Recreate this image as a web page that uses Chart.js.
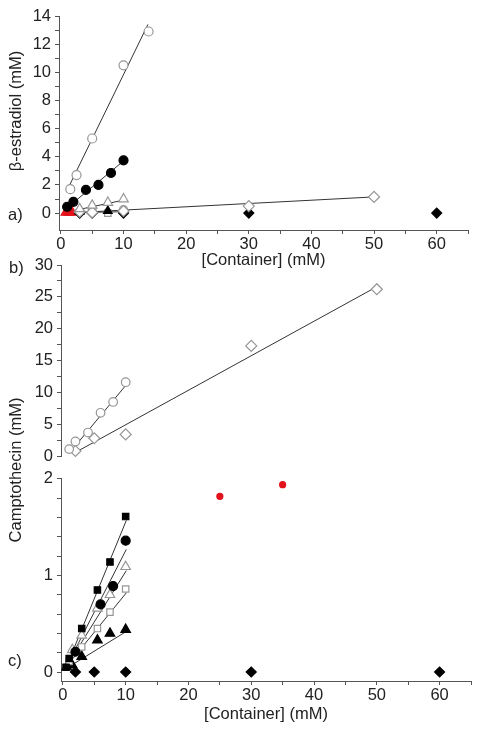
<!DOCTYPE html>
<html>
<head>
<meta charset="utf-8">
<script src="https://cdn.jsdelivr.net/npm/chart.js@4/dist/chart.umd.min.js"></script>
<style>
  body { margin: 0; background: #fff; width: 485px; height: 735px; position: relative; overflow: hidden;
         font-family: "Liberation Sans", Arial, sans-serif; color: #222; }
  canvas { position: absolute; left: 0; }
  .lab { position: absolute; font-size: 16.5px; line-height: 16px; }
  .ytitle { position: absolute; left: 15px; font-size: 16.5px; white-space: nowrap;
            transform: translate(-50%, -50%) rotate(-90deg); }
</style>
</head>
<body>
<canvas id="ca" width="485" height="274" style="top:0"></canvas>
<canvas id="cb" width="485" height="225" style="top:245px"></canvas>
<canvas id="cc" width="485" height="263" style="top:465px"></canvas>
<div class="lab" style="left:8px;top:206px">a)</div>
<div class="lab" style="left:9px;top:259px">b)</div>
<div class="lab" style="left:8px;top:652px">c)</div>
<div class="ytitle" style="top:111px">&beta;-estradiol (mM)</div>
<div class="ytitle" style="top:470px">Camptothecin (mM)</div>
<script>
var FONT = "'Liberation Sans', Arial, sans-serif";
var GRAY = "#969696";
var RED = "#e3121b";

// shared x axis ticks
var xTicks = [0, 5, 10, 15, 20, 25, 30, 35, 40, 45, 50, 55, 60, 65];
var xLabels = [0, 10, 20, 30, 40, 50, 60];

// a) beta-estradiol
var aTicks = [0, 1, 2, 3, 4, 5, 6, 7, 8, 9, 10, 11, 12, 13, 14];
var aLabels = [0, 2, 4, 6, 8, 10, 12, 14];
var aOpenCircleX = [1.5, 2.5, 5, 10, 14];
var aOpenCircleY = [1.7, 2.7, 5.3, 10.5, 12.9];
var aFilledCircleX = [1, 2, 4, 6, 8, 10];
var aFilledCircleY = [0.45, 0.8, 1.65, 2.0, 2.85, 3.75];
var aOpenTriangleX = [3, 5, 7.5, 10];
var aOpenTriangleY = [0.3, 0.55, 0.75, 1.0];
var aOpenDiamondX = [3, 5, 10, 30, 50];
var aOpenDiamondY = [0.1, 0.05, 0.15, 0.5, 1.15];
var aSmallCircleX = [5, 10];
var aSmallCircleY = [0.2, 0.25];
var aFilledDiamondX = [3, 5, 10, 30, 60];
var aFilledDiamondY = [0, 0, 0, 0, 0];
var aFilledTriangleX = [3, 7.5];
var aFilledTriangleY = [0.1, 0.15];
var aOpenSquareX = [7.5];
var aOpenSquareY = [0];
var aRedX = [0.8, 1.3, 1.8];
var aRedY = [0.05, 0.05, 0.05];
var aFits = [
  [[1.3, 1.9], [13.9, 13.4]],
  [[1.2, 0.45], [10, 3.7]],
  [[1.2, 0.1], [10, 0.92]],
  [[0.9, 0], [50, 1.15]],
  [[1, 0.03], [10, 0.1]]
];

// b) camptothecin, upper range
var bTicks = [0, 2.5, 5, 7.5, 10, 12.5, 15, 17.5, 20, 22.5, 25, 27.5, 30];
var bLabels = [0, 5, 10, 15, 20, 25, 30];
var bCircleX = [1, 2, 4, 6, 8, 10];
var bCircleY = [1.1, 2.3, 3.7, 6.8, 8.5, 11.6];
var bDiamondX = [2, 5, 10, 30, 50];
var bDiamondY = [0.8, 2.8, 3.4, 17.3, 26.2];
var bFits = [
  [[1.3, 0.8], [10.1, 11.2]],
  [[2.4, 0.8], [50.2, 26.7]]
];

// c) camptothecin, lower range
var cTicks = [0, 0.2, 0.4, 0.6, 0.8, 1, 1.2, 1.4, 1.6, 1.8, 2];
var cLabels = [0, 1, 2];
var cFilledSquareX = [0.5, 1, 3, 5.5, 7.5, 10];
var cFilledSquareY = [0.05, 0.14, 0.45, 0.85, 1.14, 1.61];
var cFilledCircleX = [2, 6, 8, 10];
var cFilledCircleY = [0.21, 0.7, 0.89, 1.36];
var cOpenTriangleX = [1.5, 3, 5.5, 7.5, 10];
var cOpenTriangleY = [0.23, 0.38, 0.66, 0.8, 1.09];
var cOpenSquareX = [1, 3, 5.5, 7.5, 10];
var cOpenSquareY = [0.11, 0.26, 0.45, 0.62, 0.86];
var cFilledTriangleX = [0.6, 1.5, 3, 5.5, 7.5, 10];
var cFilledTriangleY = [0.05, 0.07, 0.16, 0.33, 0.4, 0.44];
var cFilledDiamondX = [2, 5, 10, 30, 60];
var cFilledDiamondY = [0, 0, 0, 0, 0];
var cRedX = [25, 35];
var cRedY = [1.82, 1.94];
var cFits = [
  [[0.6, 0.06], [10.1, 1.57]],
  [[0.6, 0.06], [10.1, 1.27]],
  [[0.6, 0.06], [10.1, 1.05]],
  [[0.6, 0.06], [10.1, 0.82]],
  [[0.6, 0.04], [10.1, 0.42]]
];

function pts(xs, ys) {
  return xs.map(function (x, i) { return { x: x, y: ys[i] }; });
}

function marks(xs, ys, style, filled, color, r) {
  return {
    data: pts(xs, ys),
    pointStyle: style,
    pointRadius: r,
    backgroundColor: filled ? color : "#fff",
    borderColor: color,
    borderWidth: 1.2,
    showLine: false,
    order: 0
  };
}

function fits(list) {
  return list.map(function (seg) {
    return {
      data: seg.map(function (p) { return { x: p[0], y: p[1] }; }),
      showLine: true,
      pointRadius: 0,
      borderColor: "#333",
      borderWidth: 1,
      order: 1
    };
  });
}

function axis(min, max, ticks, labels, size, horizontal, title, show) {
  return {
    type: "linear",
    display: show !== false,
    min: min,
    max: max,
    afterBuildTicks: function (s) {
      s.ticks = ticks.map(function (v) { return { value: v }; });
    },
    afterFit: function (s) {
      if (horizontal) s.height = size; else s.width = size;
    },
    title: {
      display: !!title,
      text: title,
      color: "#222",
      padding: { top: 4, bottom: 4 },
      font: { family: FONT, size: 16.5 }
    },
    ticks: {
      autoSkip: false,
      maxRotation: 0,
      padding: horizontal ? 1 : 4,
      color: "#222",
      font: { family: FONT, size: 16.5 },
      callback: function (v) { return labels.indexOf(v) >= 0 ? String(v) : ""; }
    },
    grid: { drawOnChartArea: false, tickLength: 4, color: "#555" },
    border: { color: "#555" }
  };
}

function makeChart(id, datasets, xScale, yScale, pad) {
  return new Chart(document.getElementById(id), {
    type: "scatter",
    data: { datasets: datasets },
    options: {
      responsive: false,
      animation: false,
      events: [],
      clip: false,
      layout: { padding: pad },
      plugins: { legend: { display: false }, tooltip: { enabled: false } },
      scales: { x: xScale, y: yScale }
    }
  });
}

makeChart("ca", [
  marks(aOpenCircleX, aOpenCircleY, "circle", false, GRAY, 4.5),
  marks(aFilledCircleX, aFilledCircleY, "circle", true, "#000", 4.5),
  marks(aOpenTriangleX, aOpenTriangleY, "triangle", false, GRAY, 5.5),
  marks(aOpenDiamondX, aOpenDiamondY, "rectRot", false, GRAY, 5.5),
  marks(aSmallCircleX, aSmallCircleY, "circle", false, GRAY, 4),
  marks(aFilledDiamondX, aFilledDiamondY, "rectRot", true, "#000", 5),
  marks(aFilledTriangleX, aFilledTriangleY, "triangle", true, "#000", 5),
  marks(aOpenSquareX, aOpenSquareY, "rect", false, GRAY, 4.5),
  marks(aRedX, aRedY, "triangle", true, RED, 5.5)
].concat(fits(aFits)),
  axis(-0.3, 65, xTicks, xLabels, 44, true, "[Container] (mM)"),
  axis(-1.2, 14, aTicks, aLabels, 59, false, ""),
  { top: 16, right: 17, bottom: 0, left: 0 });

makeChart("cb", [
  marks(bCircleX, bCircleY, "circle", false, GRAY, 4.3),
  marks(bDiamondX, bDiamondY, "rectRot", false, GRAY, 5.5)
].concat(fits(bFits)),
  axis(-0.3, 65, xTicks, xLabels, 0, true, "", false),
  axis(0, 30, bTicks, bLabels, 61, false, ""),
  { top: 20, right: 14, bottom: 8, left: 0 });

makeChart("cc", [
  marks(cFilledSquareX, cFilledSquareY, "rect", true, "#000", 4.5),
  marks(cFilledCircleX, cFilledCircleY, "circle", true, "#000", 4.5),
  marks(cOpenTriangleX, cOpenTriangleY, "triangle", false, GRAY, 5.5),
  marks(cOpenSquareX, cOpenSquareY, "rect", false, GRAY, 4.5),
  marks(cFilledTriangleX, cFilledTriangleY, "triangle", true, "#000", 5.5),
  marks(cFilledDiamondX, cFilledDiamondY, "rectRot", true, "#000", 5),
  marks(cRedX, cRedY, "circle", true, RED, 3)
].concat(fits(cFits)),
  axis(-0.3, 65, xTicks, xLabels, 47, true, "[Container] (mM)"),
  axis(-0.093, 2, cTicks, cLabels, 61, false, ""),
  { top: 13, right: 14, bottom: 0, left: 0 });
</script>
</body>
</html>
